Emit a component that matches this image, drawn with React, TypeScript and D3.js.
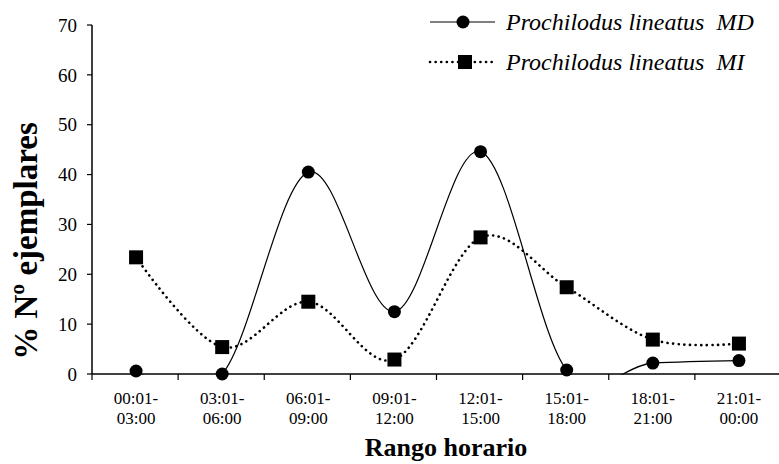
import React from "react";
import * as d3 from "d3";

const categories = [
  ["00:01-", "03:00"],
  ["03:01-", "06:00"],
  ["06:01-", "09:00"],
  ["09:01-", "12:00"],
  ["12:01-", "15:00"],
  ["15:01-", "18:00"],
  ["18:01-", "21:00"],
  ["21:01-", "00:00"],
];
const seriesMD = [0.6, 0, 40.5, 12.5, 44.6, 0.8, 2.2, 2.7];
const seriesMI = [23.4, 5.4, 14.5, 2.9, 27.4, 17.4, 6.9, 6.1];
const yTicks = [0, 10, 20, 30, 40, 50, 60, 70];
const legendMD = "Prochilodus lineatus\u00A0\u00A0MD";
const legendMI = "Prochilodus lineatus\u00A0\u00A0MI";

export default function App() {
  const W = 779, H = 464;
  const x0 = 92, x1 = 781;
  const x = d3.scaleBand<number>().domain(d3.range(categories.length)).range([x0, x1]);
  const y = d3.scaleLinear().domain([0, 70]).range([374, 25]);
  const cx = (i: number) => (x(i) as number) + x.bandwidth() / 2 + 1;
  const line = d3
    .line<number>()
    .x((_, i) => cx(i))
    .y((d) => y(d))
    .curve(d3.curveCatmullRom.alpha(0));
  const font = "'Liberation Serif', 'Times New Roman', 'DejaVu Serif', serif";
  return (
    <svg width={W} height={H} style={{ position: "absolute", left: 0, top: 0, background: "#fff", fontFamily: font }}>
      <defs>
        <clipPath id="above">
          <rect x={0} y={0} width={W} height={y(0) + 0.6} />
        </clipPath>
      </defs>
      {/* y axis */}
      <line x1={x0} x2={x0} y1={y(70)} y2={y(0)} stroke="#000" strokeWidth={1.5} />
      {yTicks.map((t) => (
        <g key={t}>
          <line x1={x0 - 5} x2={x0} y1={y(t)} y2={y(t)} stroke="#000" strokeWidth={1.2} />
          <text x={x0 - 15} y={y(t)} dy="0.35em" textAnchor="end" fontSize={19}>
            {t}
          </text>
        </g>
      ))}
      {/* x axis */}
      <line x1={x0} x2={x1} y1={y(0)} y2={y(0)} stroke="#000" strokeWidth={1.5} />
      {d3.range(categories.length + 1).map((i) => {
        const xx = i < categories.length ? (x(i) as number) : x1;
        return <line key={i} x1={xx} x2={xx} y1={y(0)} y2={y(0) + 6} stroke="#000" strokeWidth={1.2} />;
      })}
      {categories.map((c, i) => (
        <text key={i} x={cx(i)} textAnchor="middle" fontSize={17}>
          <tspan x={cx(i)} y={404}>{c[0]}</tspan>
          <tspan x={cx(i)} y={424}>{c[1]}</tspan>
        </text>
      ))}
      <text x={446} y={456} textAnchor="middle" fontSize={26} fontWeight="bold">
        Rango horario
      </text>
      <text
        transform={`translate(37,${241}) rotate(-90)`}
        textAnchor="middle"
        fontSize={33}
        fontWeight="bold"
      >
        % Nº ejemplares
      </text>
      {/* series */}
      <path d={line(seriesMI) || ""} fill="none" stroke="#000" strokeWidth={2.6} strokeDasharray="0.1 5.5" strokeLinecap="round" />
      <path d={line(seriesMD) || ""} fill="none" stroke="#000" strokeWidth={1.2} clipPath="url(#above)" />
      {seriesMI.map((v, i) => (
        <rect key={i} x={cx(i) - 7} y={y(v) - 7} width={14} height={14} fill="#000" />
      ))}
      {seriesMD.map((v, i) => (
        <circle key={i} cx={cx(i)} cy={y(v)} r={6.5} fill="#000" />
      ))}
      {/* legend */}
      <line x1={430} x2={495} y1={22} y2={22} stroke="#000" strokeWidth={1.2} />
      <circle cx={463} cy={22} r={6.5} fill="#000" />
      <text x={506} y={22} dy="0.35em" fontSize={24} fontStyle="italic">{legendMD}</text>
      <line x1={430} x2={495} y1={62} y2={62} stroke="#000" strokeWidth={2.6} strokeDasharray="0.1 5.5" strokeLinecap="round" />
      <rect x={458} y={55} width={14} height={14} fill="#000" />
      <text x={506} y={62} dy="0.35em" fontSize={24} fontStyle="italic">{legendMI}</text>
    </svg>
  );
}
